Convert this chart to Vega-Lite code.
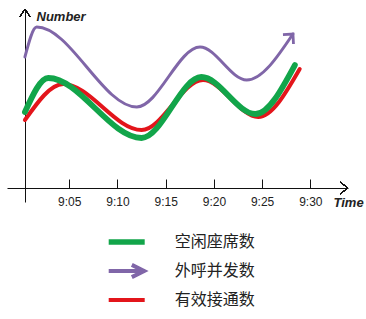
{
  "$schema": "https://vega.github.io/schema/vega-lite/v6.json",
  "width": 341,
  "height": 193,
  "padding": {"left": 7, "top": 7, "right": 0, "bottom": 0},
  "background": "white",
  "config": {"view": {"stroke": null}},
  "data": {"values": [
    {"s": "外呼并发数", "m": 0.4, "v": 131},
    {"s": "外呼并发数", "m": 1.62, "v": 161},
    {"s": "外呼并发数", "m": 12.0, "v": 81},
    {"s": "外呼并发数", "m": 18.56, "v": 141},
    {"s": "外呼并发数", "m": 23.4, "v": 108},
    {"s": "外呼并发数", "m": 28.2, "v": 154},
    {"s": "有效接通数", "m": 0.4, "v": 68},
    {"s": "有效接通数", "m": 4.38, "v": 104},
    {"s": "有效接通数", "m": 12.5, "v": 58},
    {"s": "有效接通数", "m": 18.87, "v": 108},
    {"s": "有效接通数", "m": 24.6, "v": 71},
    {"s": "有效接通数", "m": 28.9, "v": 119},
    {"s": "空闲座席数", "m": 0.4, "v": 76},
    {"s": "空闲座席数", "m": 2.82, "v": 110},
    {"s": "空闲座席数", "m": 12.5, "v": 50},
    {"s": "空闲座席数", "m": 18.7, "v": 111},
    {"s": "空闲座席数", "m": 24.3, "v": 74},
    {"s": "空闲座席数", "m": 28.4, "v": 123}
  ]},
  "encoding": {
    "x": {"field": "m", "type": "quantitative",
      "scale": {"domain": [-1.46, 33.91], "nice": false, "zero": false},
      "axis": {"values": [5, 10, 15, 20, 25, 30], "offset": -14, "grid": false,
        "labelExpr": "'9:' + (datum.value < 10 ? '0' : '') + datum.value",
        "domainColor": "#111", "domainWidth": 1, "tickColor": "#111", "tickSize": -9,
        "labelPadding": 17, "labelFont": "Liberation Sans", "labelFontSize": 12, "labelColor": "#222",
        "title": "Time", "titleFont": "Liberation Sans", "titleFontSize": 13, "titleFontWeight": "bold",
        "titleFontStyle": "italic", "titleColor": "#222", "titleAlign": "left", "titleBaseline": "middle",
        "titleX": 326, "titleY": 14, "titleAngle": 0}},
    "y": {"field": "v", "type": "quantitative",
      "scale": {"domain": [-14, 179], "nice": false, "zero": false},
      "axis": {"offset": -18, "grid": false, "ticks": false, "labels": false,
        "domainColor": "#111", "domainWidth": 1,
        "title": "Number", "titleFont": "Liberation Sans", "titleFontSize": 13, "titleFontWeight": "bold",
        "titleFontStyle": "italic", "titleColor": "#222", "titleAlign": "left", "titleBaseline": "middle",
        "titleX": 11, "titleY": 7, "titleAngle": 0}},
    "color": {"field": "s", "type": "nominal",
      "scale": {"domain": ["空闲座席数", "外呼并发数", "有效接通数"], "range": ["#12a54a", "#8066a8", "#e3151b"]},
      "legend": {"orient": "none", "legendX": 101.7, "legendY": 218.5, "title": null, "direction": "vertical",
        "clipHeight": 29, "rowPadding": 0, "padding": 0, "symbolSize": 3136, "labelOffset": 50,
        "labelFont": "Noto Sans CJK SC", "labelFontSize": 16, "labelColor": "#222", "labelLimit": 300,
        "symbolStrokeWidth": 4,
        "encode": {"symbols": {"update": {
          "shape": {"signal": "datum.value == '外呼并发数' ? 'M-1,0H0.97M0.54,-0.22L0.98,0L0.54,0.22' : 'M-1,0H1'"},
          "strokeWidth": {"signal": "datum.value == '空闲座席数' ? 5.5 : 4"}
        }}}}}
  },
  "layer": [
    {
      "transform": [{"filter": "datum.s == '外呼并发数'"}],
      "mark": {"type": "line", "interpolate": "monotone", "strokeCap": "round", "strokeWidth": 3}
    },
    {
      "transform": [{"filter": "datum.s == '有效接通数'"}],
      "mark": {"type": "line", "interpolate": "monotone", "strokeCap": "round", "strokeWidth": 4}
    },
    {
      "transform": [{"filter": "datum.s == '空闲座席数'"}],
      "mark": {"type": "line", "interpolate": "monotone", "strokeCap": "round", "strokeWidth": 5.8}
    },
    {
      "transform": [{"filter": "datum.s == '外呼并发数' && datum.m == 28.2"}],
      "mark": {"type": "point", "shape": "M-1,-1L0,0L-1,1", "filled": false, "size": 200, "strokeWidth": 2.8, "angle": -48, "opacity": 1}
    },
    {
      "mark": {"type": "point", "shape": "M-1,-0.75L0,0L-1,0.75", "filled": false, "size": 256, "strokeWidth": 1, "opacity": 1},
      "encoding": {"x": {"datum": 33.91}, "y": {"datum": 0}, "color": {"value": "#111"}}
    },
    {
      "mark": {"type": "point", "shape": "M-1,-0.65L0,0L-1,0.65", "filled": false, "size": 256, "strokeWidth": 1, "opacity": 1, "angle": -90},
      "encoding": {"x": {"datum": 0.405}, "y": {"datum": 179}, "color": {"value": "#111"}}
    }
  ]
}
